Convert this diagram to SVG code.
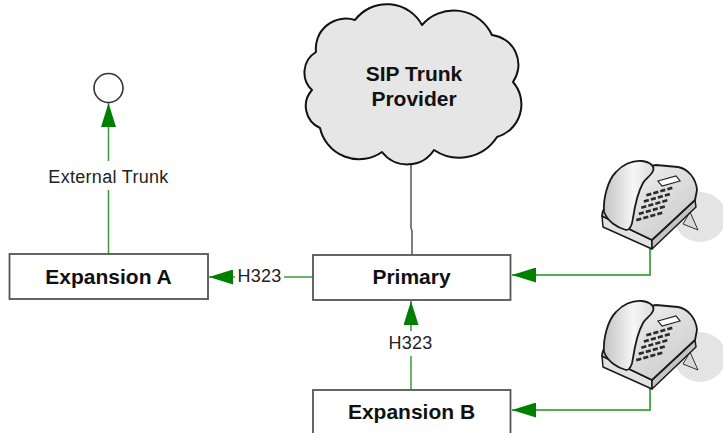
<svg xmlns="http://www.w3.org/2000/svg" xmlns:xlink="http://www.w3.org/1999/xlink" width="723" height="433" viewBox="0 0 723 433">
  <style>
    .box { fill: #ffffff; stroke: #555555; stroke-width: 1.8; }
    .title { font-family: "Liberation Sans", Arial, sans-serif; font-size: 21px; font-weight: bold; fill: #111111; text-anchor: middle; }
    .label { font-family: "Liberation Sans", Arial, sans-serif; font-size: 18px; fill: #222222; text-anchor: middle; letter-spacing: 0.3px; }
    .link { fill: none; stroke: #3a9a3a; stroke-width: 1.5; }
    .phone-link { fill: none; stroke: #4db04d; stroke-width: 2; }
    .trunk { fill: none; stroke: #555555; stroke-width: 1.5; }
    .label-bg { fill: #ffffff; }
  </style>
  <defs>
    <marker id="arrow" viewBox="0 0 24 15" refX="24" refY="7.5" markerWidth="24" markerHeight="15" markerUnits="userSpaceOnUse" orient="auto">
      <path d="M0,0 L24,7.5 L0,15 Z" fill="#008000"/>
    </marker>
    <linearGradient id="bodyGrad" x1="0" y1="0" x2="1" y2="1">
      <stop offset="0" stop-color="#f7f7f7"/>
      <stop offset="1" stop-color="#c6c6c6"/>
    </linearGradient>
    <linearGradient id="handsetGrad" x1="0" y1="0" x2="1" y2="0">
      <stop offset="0" stop-color="#c4c4c4"/>
      <stop offset="0.6" stop-color="#f6f6f6"/>
      <stop offset="1" stop-color="#dcdcdc"/>
    </linearGradient>
    <path id="key" d="M0,0 l5,-1.4 l0.6,2.6 l-5,1.4 z" fill="#2a2a2a"/>
    <!-- desk telephone, local origin at its top-left corner -->
    <g id="phone">
      <ellipse cx="100" cy="67" rx="26" ry="25" fill="#e4e4e4"/>
      <path d="M83,74 L90,62 L98,80 Z" fill="#d8d8d8" stroke="#333333" stroke-width="1" stroke-linejoin="round"/>
      <path d="M2,66 L52,90 L52,99 L3,77 Z" fill="#e2e2e2" stroke="#1a1a1a" stroke-width="1.5" stroke-linejoin="round"/>
      <path d="M52,90 L95,50 L96,57 L52,99 Z" fill="#c4c4c4" stroke="#1a1a1a" stroke-width="1.5" stroke-linejoin="round"/>
      <path d="M2,66 C2,60 6,56 10,54 L30,30 C36,22 44,16 56,15 L78,17 C88,19 96,28 97,40 L95,50 L52,90 Z" fill="url(#bodyGrad)" stroke="#1a1a1a" stroke-width="1.8" stroke-linejoin="round"/>
      <path d="M4,62 C3,48 8,30 16,22 C22,15 32,10 42,11 C50,12 55,16 53,21 C51,26 46,28 43,33 C38,42 35,55 33,68 C32,76 30,80 26,80 C18,78 8,72 4,62 Z" fill="url(#handsetGrad)" stroke="#1a1a1a" stroke-width="1.8" stroke-linejoin="round"/>
      <path d="M58,31 L76,26 L80,31 L62,36 Z" fill="#ffffff" stroke="#222222" stroke-width="1.2"/>
      <use href="#key" x="46" y="44"/><use href="#key" x="53" y="42"/><use href="#key" x="60" y="40"/><use href="#key" x="67" y="38"/>
      <use href="#key" x="43.5" y="50.2"/><use href="#key" x="50.5" y="48.2"/><use href="#key" x="57.5" y="46.2"/><use href="#key" x="64.5" y="44.2"/>
      <use href="#key" x="41" y="56.4"/><use href="#key" x="48" y="54.4"/><use href="#key" x="55" y="52.4"/><use href="#key" x="62" y="50.4"/>
      <use href="#key" x="38.5" y="62.6"/><use href="#key" x="45.5" y="60.6"/><use href="#key" x="52.5" y="58.6"/><use href="#key" x="59.5" y="56.6"/>
      <use href="#key" x="36" y="68.8"/><use href="#key" x="43" y="66.8"/><use href="#key" x="50" y="64.8"/><use href="#key" x="57" y="62.8"/>
    </g>
  </defs>

  <rect width="723" height="433" fill="#ffffff"/>

  <!-- connectors -->
  <g id="connectors">
    <path class="trunk" d="M411,160 V228 L412,231 V255"/>
    <path class="link" d="M108.5,254 V103" marker-end="url(#arrow)"/>
    <path class="link" d="M313,277 H209" marker-end="url(#arrow)"/>
    <path class="link" d="M411,390 V301" marker-end="url(#arrow)"/>
    <path class="phone-link" d="M650,248 V275 H512" marker-end="url(#arrow)"/>
    <path class="phone-link" d="M650,388 V410 H512" marker-end="url(#arrow)"/>
    <rect class="label-bg" x="46" y="161" width="125" height="29"/>
    <text class="label" x="108.5" y="183">External Trunk</text>
    <rect class="label-bg" x="235" y="266" width="49" height="22"/>
    <text class="label" x="259.5" y="282">H323</text>
    <rect class="label-bg" x="386" y="331" width="50" height="25"/>
    <text class="label" x="410.5" y="349">H323</text>
  </g>

  <g id="external-endpoint">
    <circle cx="108.5" cy="88" r="14.5" fill="#ffffff" stroke="#333333" stroke-width="1.6"/>
  </g>

  <g id="sip-provider">
    <path d="M316,52 A30,30 0 0 1 355,20 A40,40 0 0 1 422,25 A42,42 0 0 1 492,35 A30,30 0 0 1 513,82 A34,34 0 0 1 497,137 A45,45 0 0 1 434,150 A32,32 0 0 1 382,152 A40,40 0 0 1 320,128 A24,24 0 0 1 312,90 A24,24 0 0 1 316,52 Z" fill="#e6e6e6" stroke="#111111" stroke-width="2" stroke-linejoin="round"/>
    <text class="title" x="414" y="81">SIP Trunk</text>
    <text class="title" x="414" y="106">Provider</text>
  </g>

  <g id="expansion-a">
    <rect class="box" x="9.5" y="254" width="198.5" height="45"/>
    <text class="title" x="108.5" y="284">Expansion A</text>
  </g>

  <g id="primary">
    <rect class="box" x="313" y="255" width="197.5" height="45"/>
    <text class="title" x="411.5" y="284">Primary</text>
  </g>

  <g id="expansion-b">
    <rect class="box" x="313" y="390" width="197.5" height="60"/>
    <text class="title" x="411.5" y="419">Expansion B</text>
  </g>

  <g id="phone-1">
    <use href="#phone" transform="translate(600,150)"/>
  </g>

  <g id="phone-2">
    <use href="#phone" transform="translate(600,290)"/>
  </g>
</svg>
